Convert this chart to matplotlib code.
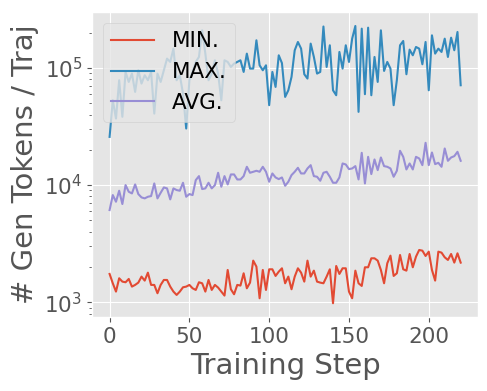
import matplotlib
matplotlib.use("Agg")
import matplotlib.pyplot as plt

plt.style.use("ggplot")

# training steps (logged every 2 steps)
steps = list(range(0, 221, 2))

# generated tokens per trajectory
min_tokens = [1743, 1451, 1232, 1601, 1499, 1480, 1580, 1359, 1405, 1470,
              1654, 1529, 1788, 1405, 1405, 1193, 1405, 1549, 1549, 1359,
              1232, 1154, 1232, 1341, 1359, 1405, 1315, 1273, 1480, 1451,
              1232, 1549, 1273, 1405, 1333, 1232, 1139, 1885, 1290, 1169,
              1405, 1387, 1766, 1315, 1470, 2265, 2013, 1081, 1885, 1273,
              1910, 1910, 1676, 1824, 1948, 1451, 1654, 1290,
              1654, 1948, 1788, 1499, 2265, 1654, 1860, 1499, 1470, 1451,
              1654, 1910, 980, 2039, 1743, 1948, 1948, 1232, 1081, 1860,
              1451, 1377, 1987, 1987, 2371, 2371, 2265, 1885, 1451, 2149,
              2498, 1676, 1766, 2531, 1910, 1860, 2581, 1987, 2450, 2792,
              2756, 2482, 2702, 1885, 1529, 2702, 2650, 2418, 2295, 2581,
              2178, 2615, 2178]

max_tokens = [25800, 53000, 37000, 78600, 38300, 92500, 76000, 89500, 62500, 95600,
              73600, 86700, 78600, 92500, 40800, 89500, 76000, 95600, 120200, 112600,
              146300, 78600, 86700, 60500, 30400, 78600, 92500, 112600, 124200, 209600,
              132600, 78600, 89500, 116300, 89500, 53000, 116300, 112600, 102000, 109000,
              112600,
              116300, 92500, 132600, 98800, 98800, 172300, 105400, 95600, 105400, 48100,
              92500, 68900, 128300, 110000,
              56600, 64500, 83900, 141600, 166700, 146300, 88400, 81200, 161400, 124200,
              89500, 92500, 226000, 102000, 156200, 64500, 58500, 137000, 98800, 156200,
              112600, 178000, 228300, 42200, 216600, 59700, 220900, 58500, 124200, 76000,
              209600, 94300, 112600, 98800, 48100, 78600, 156200, 170000, 88400, 143400,
              128300, 151100, 146300, 107500, 166700, 64500, 190000, 132600, 146300, 137000,
              178000, 124200, 181500, 141600, 202900, 71200]

avg_tokens = [6120, 8220, 7210, 8950, 6890, 10000, 8770, 8490, 10130, 8380,
              7850, 7700, 7950, 8060, 10330, 7700, 8600, 9550, 9370, 7550,
              9370, 9070, 8950, 10470, 7950, 8380, 8220, 11030, 11930, 9250,
              9370, 10470, 9370, 10000, 12740, 9680, 11930, 10130, 12330, 12330,
              11170, 11170, 11930, 14330, 12740, 12990, 13250, 12990, 14330, 12990,
              10680, 12570, 11620, 11250, 11620, 9870, 10680, 12170, 12990,
              14050, 12570, 12570, 13870, 14800, 11930, 11780, 10890, 12740, 12990,
              11780, 10470, 10470, 11620, 15300, 15000, 13690, 13870, 14520, 11170,
              18860, 10330, 17430, 12410, 16550, 13420, 17210, 14520, 14330, 13870,
              11780, 13250, 19620, 17430, 13600, 15300, 13600, 17430, 16880, 14800,
              22960, 14800, 18980, 15100, 15500, 14330, 20540, 16120, 17210, 17670,
              19240, 16120]

fig = plt.figure(figsize=(4.87, 3.91), dpi=100)
ax = fig.add_axes([0.189, 0.189, 0.793, 0.780])

ax.plot(steps, min_tokens, label="MIN.")
ax.plot(steps, max_tokens, label="MAX.")
ax.plot(steps, avg_tokens, label="AVG.")
ax.set_yscale("log")

ax.set_xlabel("Training Step", fontsize=21)
ax.set_ylabel("# Gen Tokens / Traj", fontsize=21)
ax.tick_params(axis="both", which="major", labelsize=15.5)
ax.legend(loc="upper left", fontsize=15.5)

fig.savefig("out.png", dpi=100)
